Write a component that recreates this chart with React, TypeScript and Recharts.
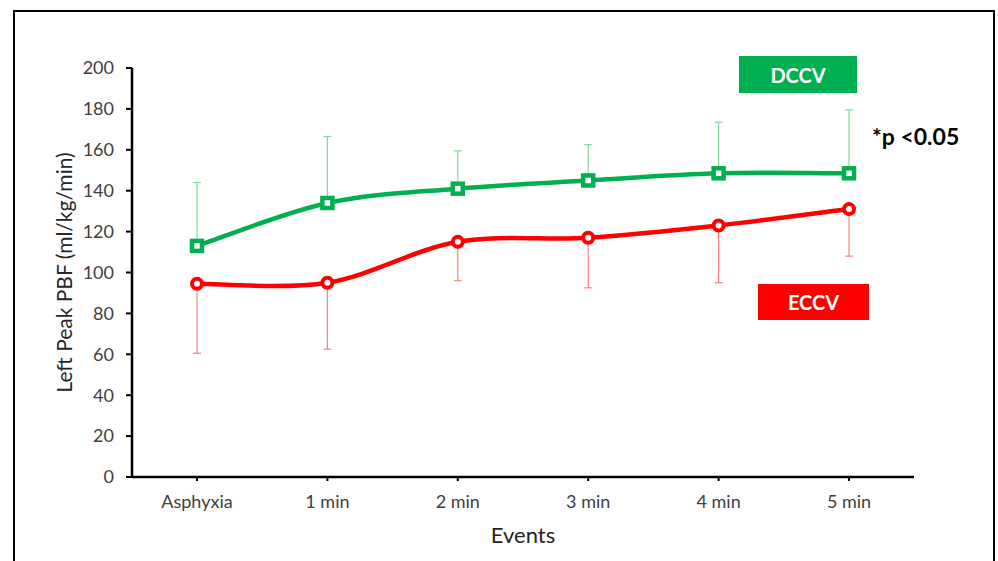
import React from 'react';
import { LineChart, Line, XAxis, YAxis, ErrorBar } from 'recharts';

const events = ['Asphyxia', '1 min', '2 min', '3 min', '4 min', '5 min'];
const dccv = [113, 134, 141, 145, 148.5, 148.5];
const dccvUpper = [144, 166.5, 159.5, 162.5, 173.5, 179.5];
const eccv = [94.5, 95, 115, 117, 123, 131];
const eccvLower = [60.5, 62.5, 96, 92.5, 95, 108];
const yTicks = [0, 20, 40, 60, 80, 100, 120, 140, 160, 180, 200];

const GREEN = '#00b050';
const RED = '#ff0000';
const FONT = 'Lato, "Open Sans", sans-serif';

const chartData = events.map((name, i) => ({
  name,
  dccv: dccv[i],
  dccvErr: [0, dccvUpper[i] - dccv[i]],
  eccv: eccv[i],
  eccvErr: [eccv[i] - eccvLower[i], 0],
}));

// Excel-style smoothed line (Catmull-Rom through the points)
const smoothCurve = (context: any) => {
  let pts: number[][] = [];
  return {
    areaStart() {},
    areaEnd() {},
    lineStart() {
      pts = [];
    },
    point(x: number, y: number) {
      pts.push([+x, +y]);
    },
    lineEnd() {
      if (!pts.length) return;
      context.moveTo(pts[0][0], pts[0][1]);
      for (let i = 0; i < pts.length - 1; i++) {
        const p0 = pts[i - 1] || pts[i];
        const p1 = pts[i];
        const p2 = pts[i + 1];
        const p3 = pts[i + 2] || p2;
        context.bezierCurveTo(
          p1[0] + (p2[0] - p0[0]) / 6,
          p1[1] + (p2[1] - p0[1]) / 6,
          p2[0] - (p3[0] - p1[0]) / 6,
          p2[1] - (p3[1] - p1[1]) / 6,
          p2[0],
          p2[1]
        );
      }
    },
  };
};

const SquareDot = (props: any) => {
  const { cx, cy } = props;
  if (cx == null || cy == null) return null;
  return <rect x={cx - 5} y={cy - 5} width={10} height={10} fill="#fff" stroke={GREEN} strokeWidth={4.5} />;
};

const CircleDot = (props: any) => {
  const { cx, cy } = props;
  if (cx == null || cy == null) return null;
  return <circle cx={cx} cy={cy} r={5} fill="#fff" stroke={RED} strokeWidth={4} />;
};

const tickStyle = { fill: '#404040', fontSize: 18, fontFamily: FONT };

export default function App() {
  return (
    <div style={{ position: 'absolute', left: 0, top: 0, width: 998, height: 561, background: '#fff', overflow: 'hidden', fontFamily: FONT }}>
      <div style={{ position: 'absolute', left: 13, top: 10, width: 982, height: 600, border: '2px solid #000', boxSizing: 'border-box' }} />
      <LineChart width={998} height={561} data={chartData} margin={{ top: 68, right: 84, bottom: 14, left: 72 }}>
        <XAxis
          dataKey="name"
          height={70}
          padding={{ left: 65, right: 65 }}
          axisLine={{ stroke: '#000', strokeWidth: 2.5 }}
          tickLine={{ stroke: '#000', strokeWidth: 2 }}
          tickSize={4}
          tickMargin={14}
          tick={tickStyle}
          label={{ value: 'Events', position: 'insideBottom', offset: 4, fill: '#262626', fontSize: 22, fontFamily: FONT }}
        />
        <YAxis
          domain={[0, 200]}
          ticks={yTicks}
          width={60}
          interval={0}
          axisLine={{ stroke: '#000', strokeWidth: 2.5 }}
          tickLine={{ stroke: '#000', strokeWidth: 2 }}
          tickSize={6}
          tickMargin={12}
          tick={tickStyle}
          label={{ value: 'Left Peak PBF (ml/kg/min)', angle: -90, position: 'center', dx: -37, fill: '#262626', fontSize: 21, fontFamily: FONT }}
        />
        <Line
          type={smoothCurve as any}
          dataKey="dccv"
          stroke={GREEN}
          strokeWidth={4.5}
          dot={<SquareDot />}
          activeDot={false}
          isAnimationActive={false}
        >
          <ErrorBar dataKey="dccvErr" direction="y" width={4} stroke="#7fdca0" strokeWidth={1.2} />
        </Line>
        <Line
          type={smoothCurve as any}
          dataKey="eccv"
          stroke={RED}
          strokeWidth={4.5}
          dot={<CircleDot />}
          activeDot={false}
          isAnimationActive={false}
        >
          <ErrorBar dataKey="eccvErr" direction="y" width={4} stroke="#ff8080" strokeWidth={1.2} />
        </Line>
      </LineChart>
      <div style={{ position: 'absolute', left: 739, top: 56, width: 118, height: 37, background: GREEN, color: '#fff', fontSize: 20, fontWeight: 700, display: 'flex', alignItems: 'center', justifyContent: 'center' }}>
        DCCV
      </div>
      <div style={{ position: 'absolute', left: 758, top: 284, width: 111, height: 36, background: RED, color: '#fff', fontSize: 20, fontWeight: 700, display: 'flex', alignItems: 'center', justifyContent: 'center' }}>
        ECCV
      </div>
      <div style={{ position: 'absolute', left: 872, top: 122, color: '#000', fontSize: 23, fontWeight: 700, whiteSpace: 'nowrap' }}>
        *p &lt;0.05
      </div>
    </div>
  );
}
